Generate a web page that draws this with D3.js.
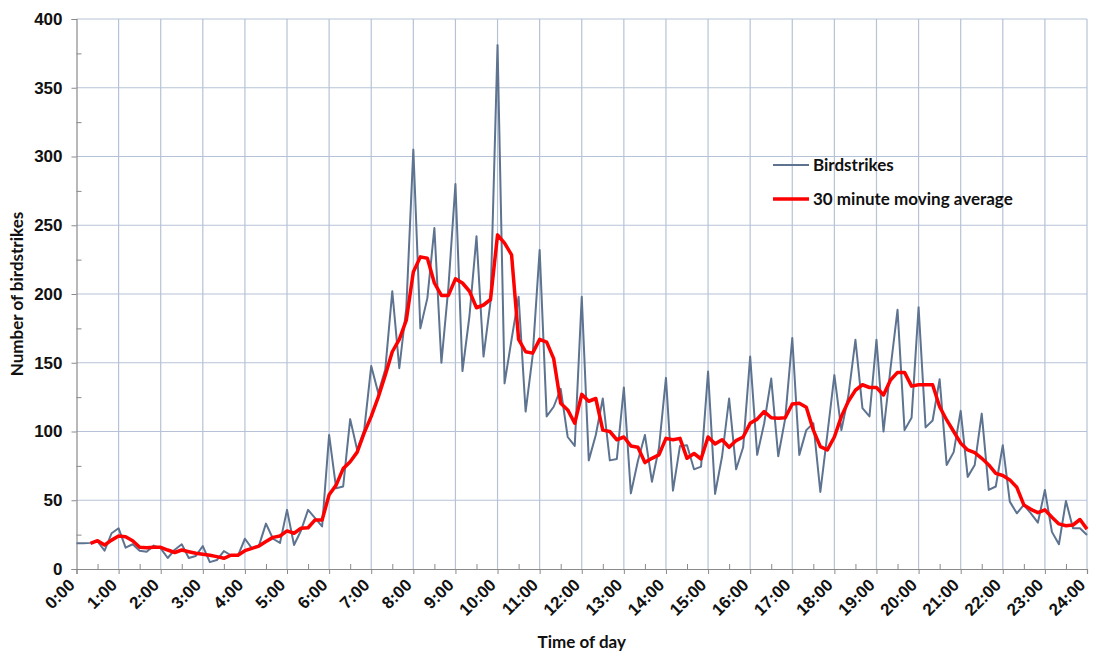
<!DOCTYPE html>
<html><head><meta charset="utf-8">
<script src="https://cdn.jsdelivr.net/npm/d3@7/dist/d3.min.js"></script>
<style>
body{margin:0;background:#fff}
svg text{fill:#111}
</style>
</head><body>
<svg id="chart" width="1094" height="653"></svg>
<script>
// ---- data (10-minute bins, 0:00 .. 24:00) ----
const hourTicks = [0,1,2,3,4,5,6,7,8,9,10,11,12,13,14,15,16,17,18,19,20,21,22,23,24];
const hourLabels = ["0:00","1:00","2:00","3:00","4:00","5:00","6:00","7:00","8:00","9:00","10:00","11:00","12:00","13:00","14:00","15:00","16:00","17:00","18:00","19:00","20:00","21:00","22:00","23:00","24:00"];
const yTicks = [0,50,100,150,200,250,300,350,400];
const yMinorTicks = [25,75,125,175,225,275,325,375];
const legendLabels = ["Birdstrikes","30 minute moving average"];

const birdstrikes = [
 18.7,18.7,19,20,13.3,26,29.6,15.5,18,13.3,12.6,17,15,8,14,18,8,9.5,16.7,5,6.5,13,10,9.5,
 22,15,17,33,22,19,43,17.5,28,43,37,31,97.5,58.7,60,109,86.6,101,147.7,128,145,202,146,190,
 305,175,197,248,150,205,280,144,184,242,154.5,194.5,381,135,167,198,114.5,155,232,111,118,131,96,89.5,
 198,79,97.5,124,79,80,132,55,78.5,97.5,63.5,88,139,57,89.5,90,72.5,74.5,143.6,54.6,82,124,72.5,88.5,
 154.5,83,106,138.5,82,109.5,168,83,101,106,56,98,141,101,126,166.7,117,111,166.7,100,146,188.5,101,110,
 190.4,103,108,138,75.7,85,115,67,75.7,113,57.5,60,90,49,40.5,46.6,40.5,33.7,57.5,27,18,49.5,29.6,29.6,
 24.7
];
const movingAverage = [
 null,null,18.7,20.6,17.5,21,24,23.5,20.6,15.8,15.5,15.8,15.8,13.8,12,13.8,12.6,11.4,10.7,10,9,7.8,10,10,
 13.3,15,16.7,20,23,24,27.7,26,29.6,30,35.7,35.7,54,61,73,78,85,99,111,125,141,158,167,181,
 216,227,226,208,199,199,211,208,202,190,192,196,243,237,228.5,167,158,157,167,165,153,120.5,115.7,106,
 127,122,124,101,100,94,96,89.5,88.5,77.4,80.5,83,95,94,95,80.5,84,80,96,91,94,88.5,93.4,96,
 106,109,114.5,110,109.7,110,120,120.6,117.7,101,89,86.6,96,111,122,130,134,132,132,126.6,137.5,143,143,133,
 134,134,134,118,108.4,100,91.5,86.6,84.7,80.5,75.7,69.6,68,64.8,59.4,46.6,43.4,41,43,37.6,32.8,31.5,32,36,
 29
];
const binHours = birdstrikes.map((d,i)=>i/6);   // each bin is 10 minutes

// ---- layout ----
const W = 1094, H = 653;
const m = {left:76.5, right:1094-1087, top:19, bottom:653-569};
const svg = d3.select("#chart");
const x = d3.scaleLinear().domain([0,24]).range([m.left, W-m.right]);
const y = d3.scaleLinear().domain([0,400]).range([H-m.bottom, m.top]);

const gridColor = "#b6c3d6", axisColor = "#8a8a8a";
const tickFont = "'Liberation Sans', Arial, sans-serif";
const titleFont = "Lato, 'Liberation Sans', sans-serif";

// gridlines
svg.append("g").selectAll("line.h").data(yTicks.filter(d=>d>0)).join("line")
  .attr("x1", x(0)).attr("x2", x(24)).attr("y1", d=>y(d)).attr("y2", d=>y(d))
  .attr("stroke", gridColor).attr("stroke-width",1.2);
svg.append("g").selectAll("line.v").data(hourTicks.filter(d=>d>0)).join("line")
  .attr("x1", d=>x(d)).attr("x2", d=>x(d)).attr("y1", y(0)).attr("y2", y(400))
  .attr("stroke", gridColor).attr("stroke-width",1.2);

// y axis
const yAxis = svg.append("g").attr("transform",`translate(${x(0)},0)`)
  .call(d3.axisLeft(y).tickValues(yTicks).tickSize(5).tickPadding(9).tickFormat(d3.format("d")));
yAxis.select(".domain").attr("stroke", axisColor).attr("stroke-width",1.2);
yAxis.selectAll(".tick line").attr("stroke", axisColor);
yAxis.selectAll("text").attr("font-family", tickFont).attr("font-weight","bold").attr("font-size",17).attr("fill","#111");
svg.append("g").attr("transform",`translate(${x(0)},0)`)
  .call(d3.axisLeft(y).tickValues(yMinorTicks).tickSize(-5).tickFormat(""))
  .call(g=>g.select(".domain").remove())
  .selectAll(".tick line").attr("stroke", axisColor);

// x axis
const xAxis = svg.append("g").attr("transform",`translate(0,${y(0)})`)
  .call(d3.axisBottom(x).tickValues(hourTicks).tickSize(5).tickFormat((d,i)=>hourLabels[i]));
xAxis.select(".domain").attr("stroke", axisColor).attr("stroke-width",1.2);
xAxis.selectAll(".tick line").attr("stroke", axisColor);
xAxis.selectAll("text")
  .attr("font-family", tickFont).attr("font-weight","bold").attr("font-size",17).attr("fill","#111")
  .attr("text-anchor","end").attr("dy",0).attr("y",0)
  .attr("transform","translate(-1,17) rotate(-45)");
svg.append("g").attr("transform",`translate(0,${y(0)})`)
  .call(d3.axisBottom(x).tickValues(hourTicks.slice(0,-1).map(h=>h+0.5)).tickSize(-5).tickFormat(""))
  .call(g=>g.select(".domain").remove())
  .selectAll(".tick line").attr("stroke", axisColor);

// series
const lineB = d3.line().x((d,i)=>x(binHours[i])).y(d=>y(d));
svg.append("path").datum(birdstrikes).attr("d", lineB)
  .attr("fill","none").attr("stroke","#5d7390").attr("stroke-width",2).attr("stroke-linejoin","round");
const lineM = d3.line().defined(d=>d!==null).x((d,i)=>x(binHours[i])).y(d=>y(d));
svg.append("path").datum(movingAverage).attr("d", lineM)
  .attr("fill","none").attr("stroke","#ff0000").attr("stroke-width",3.5).attr("stroke-linejoin","round");

// axis titles
svg.append("text").attr("x", (x(0)+x(24))/2).attr("y", 648).attr("text-anchor","middle")
  .attr("font-family", titleFont).attr("font-weight","bold").attr("font-size",17).text("Time of day");
svg.append("text").attr("transform",`translate(23,${(y(0)+y(400))/2}) rotate(-90)`).attr("text-anchor","middle")
  .attr("font-family", titleFont).attr("font-weight","bold").attr("font-size",17).text("Number of birdstrikes");

// legend
const legend = svg.append("g").attr("transform","translate(773,165)");
const legColors = ["#5d7390","#ff0000"], legWidths = [2,3.5];
legendLabels.forEach((lab,i)=>{
  const g = legend.append("g").attr("transform",`translate(0,${i*34})`);
  g.append("line").attr("x1",0).attr("x2",36).attr("y1",0).attr("y2",0)
    .attr("stroke",legColors[i]).attr("stroke-width",legWidths[i]);
  g.append("text").attr("x",40).attr("y",6).attr("font-family",titleFont).attr("font-weight","bold")
    .attr("font-size",17).text(lab);
});
</script>
</body></html>
